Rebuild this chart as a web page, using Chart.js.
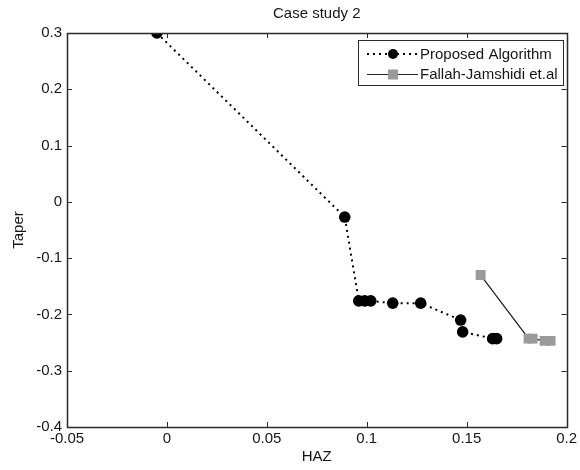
<!DOCTYPE html>
<html><head><meta charset="utf-8">
<script src="https://cdn.jsdelivr.net/npm/chart.js@4/dist/chart.umd.min.js"></script>
<style>html,body{margin:0;padding:0;background:#fff}#wrap{width:580px;height:470px}</style>
</head><body><div id="wrap"><canvas id="c" width="580" height="470"></canvas></div>
<script>
const chartTitle = "Case study 2";
const xTitle = "HAZ";
const yTitle = "Taper";
const seriesNames = ["Proposed Algorithm", "Fallah-Jamshidi et.al"];
const proposedX = [-0.005, 0.089, 0.096, 0.099, 0.102, 0.113, 0.127, 0.147, 0.148, 0.163, 0.165];
const proposedY = [0.3, -0.027, -0.176, -0.176, -0.176, -0.18, -0.18, -0.21, -0.231, -0.243, -0.243];
const fallahX = [0.157, 0.181, 0.183, 0.189, 0.192];
const fallahY = [-0.13, -0.243, -0.243, -0.247, -0.247];
const xTicks = [-0.05, 0, 0.05, 0.1, 0.15, 0.2];
const yTicks = [-0.4, -0.3, -0.2, -0.1, 0, 0.1, 0.2, 0.3];

const FONT = "Liberation Sans, Arial, sans-serif";
const AX = "#2a2a2a";
const TXT = "#161616";
const GRAY = "#9a9a9a";

const toPts = (xs, ys) => xs.map((x, i) => ({x, y: ys[i]}));

const boxPlugin = {
  id: 'box',
  afterDraw(chart) {
    const {ctx, chartArea: a, scales} = chart;
    ctx.save();
    ctx.strokeStyle = AX; ctx.lineWidth = 1.5;
    ctx.strokeRect(Math.round(a.left) + 0.5, Math.round(a.top) + 0.5, Math.round(a.right - a.left), Math.round(a.bottom - a.top));
    ctx.lineWidth = 1;
    const tl = 5;
    ctx.beginPath();
    xTicks.forEach(v => {
      const px = Math.round(scales.x.getPixelForValue(v)) + 0.5;
      ctx.moveTo(px, a.bottom); ctx.lineTo(px, a.bottom - tl);
      ctx.moveTo(px, a.top); ctx.lineTo(px, a.top + tl);
    });
    yTicks.forEach(v => {
      const py = Math.round(scales.y.getPixelForValue(v)) + 0.5;
      ctx.moveTo(a.left, py); ctx.lineTo(a.left + tl, py);
      ctx.moveTo(a.right, py); ctx.lineTo(a.right - tl, py);
    });
    ctx.stroke();
    // title
    ctx.fillStyle = TXT;
    ctx.font = "15px " + FONT;
    ctx.textAlign = "center"; ctx.textBaseline = "middle";
    ctx.fillText(chartTitle, (a.left + a.right) / 2, 14);
    // legend
    const lx = 358, ly = 40, lw = 205, lh = 45;
    ctx.fillStyle = "#fff";
    ctx.fillRect(lx, ly, lw, lh);
    ctx.strokeStyle = AX;
    ctx.strokeRect(lx + 0.5, ly + 0.5, lw, lh);
    const rows = [ly + 14, ly + 34];
    // row 1 dotted + circle
    ctx.strokeStyle = "#000"; ctx.lineWidth = 2; ctx.setLineDash([2, 4]);
    ctx.beginPath(); ctx.moveTo(367, rows[0]); ctx.lineTo(418, rows[0]); ctx.stroke();
    ctx.setLineDash([]);
    ctx.fillStyle = "#000";
    ctx.beginPath(); ctx.arc(393, rows[0], 5, 0, Math.PI * 2); ctx.fill();
    // row 2 solid + square
    ctx.lineWidth = 1; ctx.strokeStyle = "#222";
    ctx.beginPath(); ctx.moveTo(367, rows[1] + 0.5); ctx.lineTo(418, rows[1] + 0.5); ctx.stroke();
    ctx.fillStyle = GRAY; ctx.fillRect(388, rows[1] - 4.5, 10, 10);
    ctx.fillStyle = TXT; ctx.textAlign = "left";
    ctx.font = "15px " + FONT;
    ctx.fillText(seriesNames[0], 420, rows[0] + 1);
    ctx.fillText(seriesNames[1], 420, rows[1] + 1);
    ctx.restore();
  }
};

new Chart(document.getElementById('c'), {
  type: 'scatter',
  data: {
    datasets: [
      {
        label: seriesNames[0],
        data: toPts(proposedX, proposedY),
        showLine: true,
        borderColor: '#000', borderWidth: 2, borderDash: [2, 4],
        backgroundColor: '#000', pointBackgroundColor: '#000', pointBorderColor: '#000',
        pointRadius: 5.8, pointStyle: 'circle', pointBorderWidth: 0,
        order: 2
      },
      {
        label: seriesNames[1],
        data: toPts(fallahX, fallahY),
        showLine: true,
        borderColor: '#222', borderWidth: 1.3,
        backgroundColor: GRAY, pointBackgroundColor: GRAY, pointBorderColor: GRAY,
        pointRadius: 7, pointStyle: 'rect', pointBorderWidth: 0,
        order: 1
      }
    ]
  },
  options: {
    responsive: false, animation: false,
    layout: {padding: {top: 33, right: 10, left: 0, bottom: 0}},
    plugins: {legend: {display: false}, tooltip: {enabled: false}, title: {display: false}},
    scales: {
      x: {
        type: 'linear', min: -0.05, max: 0.2,
        afterBuildTicks: s => { s.ticks = xTicks.map(v => ({value: v})); },
        afterFit: s => { s.height = 43; },
        grid: {display: false, drawTicks: false},
        border: {display: false},
        ticks: {color: TXT, font: {family: FONT, size: 15}, padding: 3, maxRotation: 0,
          callback: v => String(v)},
        title: {display: true, text: xTitle, color: TXT, font: {family: FONT, size: 15}, padding: {top: 0, bottom: 4}}
      },
      y: {
        type: 'linear', min: -0.4, max: 0.3,
        afterBuildTicks: s => { s.ticks = yTicks.map(v => ({value: v})); },
        afterFit: s => { s.width = 67; },
        grid: {display: false, drawTicks: false},
        border: {display: false},
        ticks: {color: TXT, font: {family: FONT, size: 15}, padding: 5,
          callback: v => String(Math.round(v * 10) / 10)},
        title: {display: true, text: yTitle, color: TXT, font: {family: FONT, size: 15}, padding: {top: 10, bottom: 0}}
      }
    }
  },
  plugins: [boxPlugin]
});
</script>
</body></html>
